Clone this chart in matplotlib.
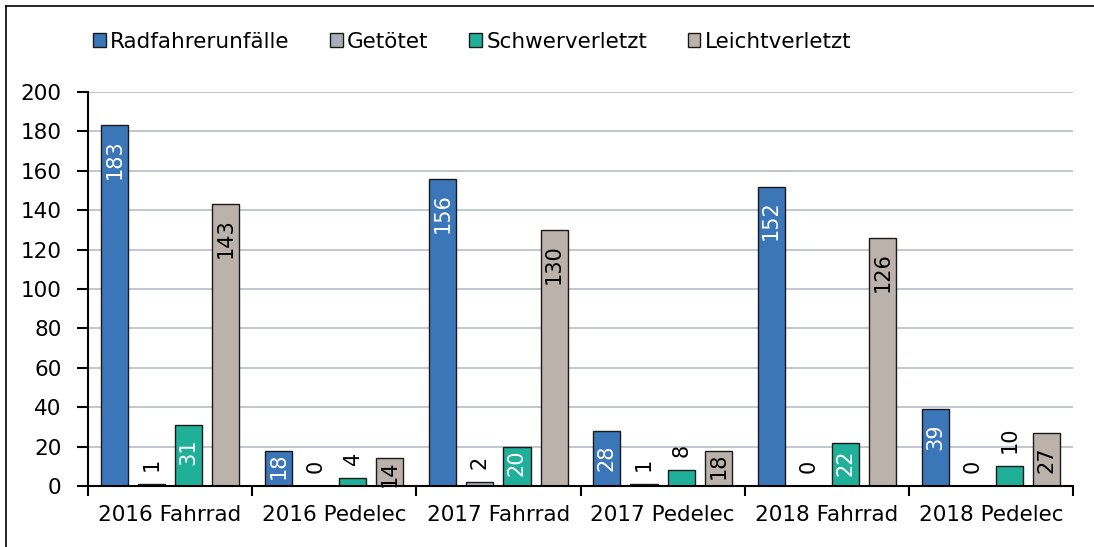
import matplotlib
matplotlib.use("Agg")
import matplotlib.pyplot as plt
import numpy as np
from matplotlib.lines import Line2D

categories = ["2016 Fahrrad", "2016 Pedelec", "2017 Fahrrad", "2017 Pedelec", "2018 Fahrrad", "2018 Pedelec"]
series_names = ["Radfahrerunfälle", "Getötet", "Schwerverletzt", "Leichtverletzt"]
radfahrerunfaelle = [183, 18, 156, 28, 152, 39]
getoetet = [1, 0, 2, 1, 0, 0]
schwerverletzt = [31, 4, 20, 8, 22, 10]
leichtverletzt = [143, 14, 130, 18, 126, 27]
y_ticks = [0, 20, 40, 60, 80, 100, 120, 140, 160, 180, 200]

series = [radfahrerunfaelle, getoetet, schwerverletzt, leichtverletzt]
colors = ["#3b76b8", "#a9aeb6", "#20b09a", "#bbb2ab"]
inside_text = ["white", "black", "white", "black"]

plt.rcParams['font.family'] = ['DejaVu Sans']
FS = 15.5

W, H, DPI = 10.94, 5.47, 100
fig = plt.figure(figsize=(W, H), dpi=DPI)
ax = fig.add_axes([88/1094, (547-486)/547, (1073-88)/1094, (486-92)/547])

x = np.arange(len(categories))
pitch = 0.226
bw = 0.165
for i, (vals, c) in enumerate(zip(series, colors)):
    off = (i - 1.5) * pitch
    ax.bar(x + off, vals, width=bw, color=c, edgecolor="#1a1a1a", linewidth=1.0, zorder=3,
           label=series_names[i])

ax.set_xlim(-0.5, len(categories) - 0.5)
ax.set_ylim(0, 200)
ax.set_yticks(y_ticks)
ax.set_yticklabels([str(v) for v in y_ticks], fontsize=FS)
ax.set_xticks(x)
ax.set_xticklabels(categories, fontsize=FS)
ax.set_xticks(np.arange(-0.5, len(categories)), minor=True)
ax.tick_params(axis='x', which='major', length=0, pad=14)
ax.tick_params(axis='x', which='minor', length=7, width=1.5, direction='out', color='black')
ax.tick_params(axis='y', length=8, width=1.5, direction='out', pad=11)
ax.yaxis.grid(True, color="#b6bdc9", linewidth=1.2, zorder=0)
ax.set_axisbelow(True)
for s in ["top", "right"]:
    ax.spines[s].set_visible(False)
for s in ["left", "bottom"]:
    ax.spines[s].set_linewidth(1.5)
    ax.spines[s].set_zorder(4)

# data labels
px_per_unit = (486 - 92) / 200.0
digit_px = 12.0
for i, vals in enumerate(series):
    off = (i - 1.5) * pitch
    for j, v in enumerate(vals):
        bar_px = v * px_per_unit
        s = str(v)
        L = max(len(s), 2) * digit_px + 2
        if bar_px >= L:
            gap = min(14, max(2, bar_px - L - 10))
            ax.annotate(s, (x[j] + off, v), xytext=(0, -gap), textcoords='offset pixels',
                        rotation=90, ha='center', va='top', fontsize=FS - 0.5,
                        color=inside_text[i], zorder=5)
        else:
            ax.annotate(s, (x[j] + off, v), xytext=(0, 13), textcoords='offset pixels',
                        rotation=90, ha='center', va='bottom', fontsize=FS - 0.5,
                        color='black', zorder=5)

leg = fig.legend(loc='upper left', bbox_to_anchor=(84/1094, 1 - 23/547), ncol=4, frameon=False,
                 fontsize=FS, handlelength=0.6, handleheight=0.6, handletextpad=0.2,
                 columnspacing=1.88, borderaxespad=0)

# figure frame (left and top)
fig.add_artist(Line2D([6/1094, 6/1094], [0, 1 - 6/547], transform=fig.transFigure, color='black', linewidth=1.2))
fig.add_artist(Line2D([6/1094, 1], [1 - 6/547, 1 - 6/547], transform=fig.transFigure, color='black', linewidth=1.2))

fig.savefig("out.png", dpi=DPI)
